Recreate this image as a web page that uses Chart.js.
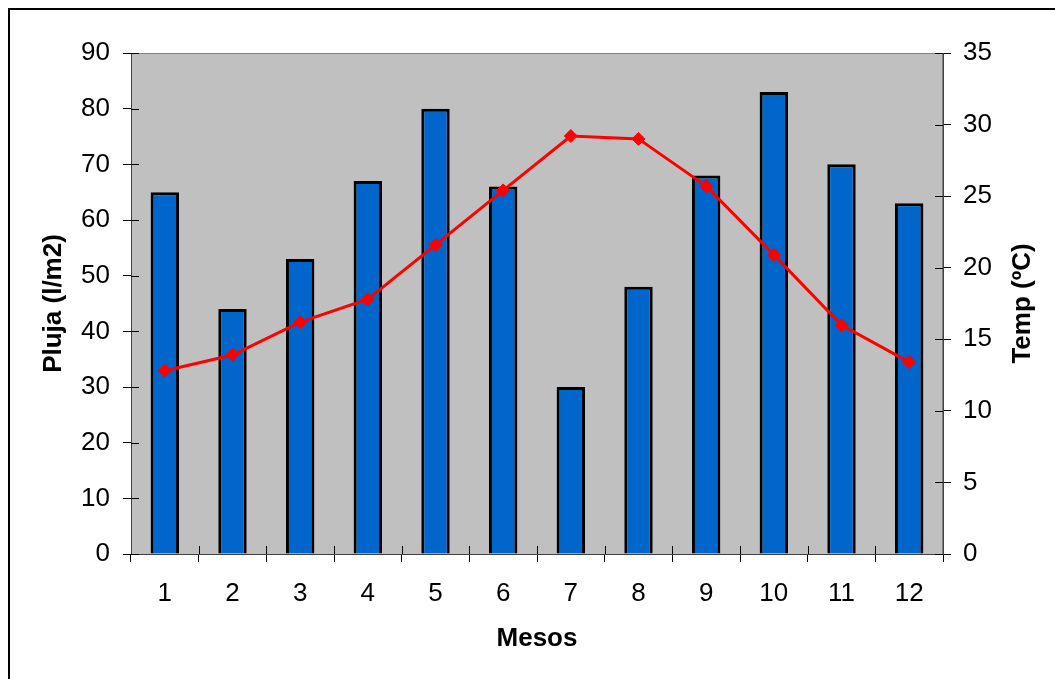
<!DOCTYPE html>
<html lang="ca">
<head>
    <meta charset="UTF-8">
    <title>Pluja i temperatura per mesos</title>
    <script src="https://cdn.jsdelivr.net/npm/chart.js"></script>
    <style>
        body { margin: 0; background: #fff; }
        canvas { display: block; }
    </style>
</head>
<body>
    <canvas id="grafic" width="1055" height="679"></canvas>
    <script>
        const mesos = ['1', '2', '3', '4', '5', '6', '7', '8', '9', '10', '11', '12'];
        const pluja = [65, 44, 53, 67, 80, 66, 30, 48, 68, 83, 70, 63];
        const temp = [12.8, 13.9, 16.2, 17.8, 21.6, 25.4, 29.2, 29.0, 25.7, 20.9, 16.0, 13.4];

        const font = { family: 'Arial, "Liberation Sans", sans-serif', size: 26 };
        const fontBold = { family: 'Arial, "Liberation Sans", sans-serif', size: 26, weight: 'bold' };

        // fons gris, marc exterior, marques creuades i titol dret
        const decoracio = {
            id: 'decoracio',
            beforeDraw(chart) {
                const { ctx, chartArea: a } = chart;
                ctx.save();
                ctx.strokeStyle = '#000';
                ctx.lineWidth = 2;
                ctx.strokeRect(9, 9, 1100, 720);
                ctx.fillStyle = '#C0C0C0';
                ctx.fillRect(a.left, a.top, a.right - a.left, a.bottom - a.top);
                ctx.strokeStyle = '#808080';
                ctx.lineWidth = 1;
                ctx.strokeRect(a.left + 0.5, a.top + 0.5, a.right - a.left - 1, a.bottom - a.top);
                ctx.restore();
            },
            afterDatasetsDraw(chart) {
                const { ctx, chartArea: a, scales } = chart;
                ctx.save();
                ctx.strokeStyle = '#000';
                ctx.lineWidth = 1;
                ctx.beginPath();
                scales.y.ticks.forEach((t, i) => {
                    const y = Math.round(scales.y.getPixelForTick(i)) + 0.5;
                    ctx.moveTo(a.left, y); ctx.lineTo(a.left + 8, y);
                });
                scales.y1.ticks.forEach((t, i) => {
                    const y = Math.round(scales.y1.getPixelForTick(i)) + 0.5;
                    ctx.moveTo(a.right - 8, y); ctx.lineTo(a.right, y);
                });
                for (let i = 1; i < mesos.length; i++) {
                    const x = Math.round((scales.x.getPixelForValue(i - 1) + scales.x.getPixelForValue(i)) / 2) + 0.5;
                    ctx.moveTo(x, a.bottom - 8); ctx.lineTo(x, a.bottom);
                }
                ctx.stroke();
                ctx.restore();
            },
            afterDraw(chart) {
                const { ctx, chartArea: a } = chart;
                ctx.save();
                ctx.font = 'bold 26px Arial, "Liberation Sans", sans-serif';
                ctx.fillStyle = '#000';
                ctx.textAlign = 'center';
                ctx.textBaseline = 'middle';
                ctx.translate(1023, (a.top + a.bottom) / 2);
                ctx.rotate(-Math.PI / 2);
                ctx.fillText('Temp (ºC)', 0, 0);
                ctx.restore();
            }
        };

        new Chart(document.getElementById('grafic'), {
            data: {
                labels: mesos,
                datasets: [
                    {
                        type: 'line',
                        label: 'Temp (ºC)',
                        data: temp,
                        yAxisID: 'y1',
                        borderColor: '#FF0000',
                        backgroundColor: '#FF0000',
                        borderWidth: 3,
                        pointStyle: 'rectRot',
                        pointRadius: 6.5,
                        pointBorderWidth: 1,
                        tension: 0,
                        order: 0
                    },
                    {
                        type: 'bar',
                        label: 'Pluja (l/m2)',
                        data: pluja,
                        yAxisID: 'y',
                        backgroundColor: '#0066CC',
                        borderColor: '#000',
                        borderWidth: 3,
                        barPercentage: 0.42,
                        categoryPercentage: 1,
                        order: 1
                    }
                ]
            },
            options: {
                responsive: false,
                animation: false,
                layout: { padding: { left: 10, right: 10, top: 53, bottom: 10 } },
                plugins: { legend: { display: false }, tooltip: { enabled: false } },
                scales: {
                    x: {
                        offset: true,
                        afterFit(s) { s.height = 115; },
                        grid: { offset: true, drawOnChartArea: false, tickLength: 8, color: '#000' },
                        border: { color: '#404040', width: 1 },
                        ticks: { font: font, color: '#000', padding: 16, maxRotation: 0 },
                        title: { display: true, text: 'Mesos', font: fontBold, color: '#000', padding: { bottom: 15 } }
                    },
                    y: {
                        position: 'left',
                        min: 0, max: 90,
                        afterFit(s) { s.width = 121; },
                        grid: { drawOnChartArea: false, tickLength: 8, color: '#000' },
                        border: { color: '#404040', width: 1 },
                        ticks: { stepSize: 10, font: font, color: '#000', padding: 13 },
                        title: { display: true, text: 'Pluja (l/m2)', font: fontBold, color: '#000', padding: { top: 28 } }
                    },
                    y1: {
                        position: 'right',
                        min: 0, max: 35,
                        afterFit(s) { s.width = 102; },
                        grid: { drawOnChartArea: false, tickLength: 8, color: '#000' },
                        border: { color: '#404040', width: 1 },
                        ticks: { stepSize: 5, font: font, color: '#000', padding: 12 }
                    }
                }
            },
            plugins: [decoracio]
        });
    </script>
</body>
</html>
